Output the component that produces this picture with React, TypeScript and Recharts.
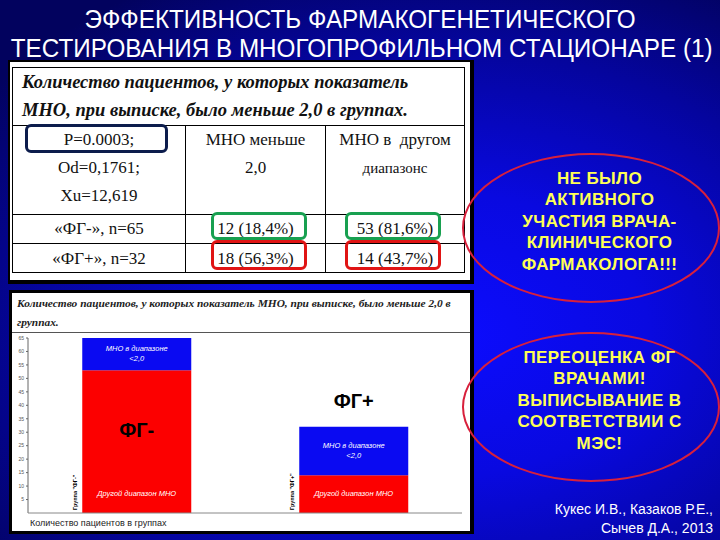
import React from 'react';
import { BarChart, Bar, XAxis, YAxis, LabelList } from 'recharts';

// chart data
const groups = ['ФГ-', 'ФГ+'];
const otherRange = [53, 14];
const below2 = [12, 18];
const yTicks = [5, 10, 15, 20, 25, 30, 35, 40, 45, 50, 55, 60, 65];
const groupAxisLabels = ['Группа "ФГ-"', 'Группа "ФГ+"'];

// table text
const tableHead = ['Количество пациентов, у которых показатель', 'МНО, при выписке, было меньше 2,0 в группах.'];
const statsLines = ['P=0.0003;', 'Od=0,1761;', 'Xu=12,619'];
const rowNames = ['«ФГ-», n=65', '«ФГ+», n=32'];
const belowCells = ['12 (18,4%)', '18 (56,3%)'];
const otherCells = ['53 (81,6%)', '14 (43,7%)'];

const oval1 = ['НЕ БЫЛО', 'АКТИВНОГО', 'УЧАСТИЯ ВРАЧА-', 'КЛИНИЧЕСКОГО', 'ФАРМАКОЛОГА!!!'];
const oval2 = ['ПЕРЕОЦЕНКА ФГ', 'ВРАЧАМИ!', 'ВЫПИСЫВАНИЕ В', 'СООТВЕТСТВИИ С', 'МЭС!'];

const data = groups.map((g, i) => ({ group: g, other: otherRange[i], below: below2[i] }));

const serif = '"Liberation Serif", "Times New Roman", serif';
const sans = '"Liberation Sans", Arial, sans-serif';

const RedLabel = (props: any) => {
  const { x, y, width, height, index } = props;
  const cx = x + width / 2;
  return (
    <g>
      <text x={cx} y={y + height - 17} textAnchor="middle" fill="#fff" fontSize={7.5} fontStyle="italic" fontFamily={sans}>
        Другой диапазон МНО
      </text>
      <text
        x={x - 5}
        y={y + height - 3}
        transform={`rotate(-90 ${x - 5} ${y + height - 3})`}
        fontSize={5.5}
        fontWeight="bold"
        fill="#000"
        fontFamily={sans}
      >
        {groupAxisLabels[index]}
      </text>
      {index === 0 && (
        <text x={cx} y={y + height * 0.42 + 7} textAnchor="middle" fontSize={20} fontWeight="bold" fill="#000" fontFamily={sans}>
          {groups[index]}
        </text>
      )}
    </g>
  );
};

const BlueLabel = (props: any) => {
  const { x, y, width, height, index } = props;
  const cx = x + width / 2;
  const cy = y + height / 2;
  return (
    <g>
      <text x={cx} y={cy - 3} textAnchor="middle" fill="#fff" fontSize={7.5} fontStyle="italic" fontFamily={sans}>
        МНО в диапазоне
      </text>
      <text x={cx} y={cy + 7} textAnchor="middle" fill="#fff" fontSize={7.5} fontStyle="italic" fontFamily={sans}>
        {'<2,0'}
      </text>
      {index === 1 && (
        <text x={cx} y={y - 19} textAnchor="middle" fontSize={20} fontWeight="bold" fill="#000" fontFamily={sans}>
          {groups[index]}
        </text>
      )}
    </g>
  );
};

const box = (left: number, top: number, w: number, h: number, color: string): React.CSSProperties => ({
  position: 'absolute',
  left,
  top,
  width: w,
  height: h,
  border: `3px solid ${color}`,
  borderRadius: 6,
  boxSizing: 'border-box',
});

const cell: React.CSSProperties = {
  borderRight: '1px solid #000',
  textAlign: 'center',
  fontFamily: serif,
  fontSize: 17,
  color: '#111',
  padding: 0,
};

const Oval = ({ top, lines }: { top: number; lines: string[] }) => (
  <div
    style={{
      position: 'absolute',
      left: 462,
      top,
      width: 258,
      height: 150,
      borderRadius: '50%',
      border: '2.5px solid #d8203c',
      boxSizing: 'border-box',
      display: 'flex',
      flexDirection: 'column',
      justifyContent: 'center',
      alignItems: 'center',
      paddingLeft: 17,
      paddingBottom: 13,
    }}
  >
    {lines.map((l) => (
      <div
        key={l}
        style={{ color: '#ffff55', fontWeight: 'bold', fontSize: 17, letterSpacing: 0.4, lineHeight: '21.5px', fontFamily: sans, whiteSpace: 'nowrap' }}
      >
        {l}
      </div>
    ))}
  </div>
);

export default function App() {
  return (
    <div
      style={{
        position: 'absolute',
        left: 0,
        top: 0,
        width: 720,
        height: 540,
        overflow: 'hidden',
        fontFamily: sans,
        background:
          'radial-gradient(ellipse 80% 75% at 62% 62%, #0c0cff 0%, #0909e0 35%, #05059e 70%, #02025e 100%)',
      }}
    >
      {/* title */}
      <div style={{ position: 'absolute', left: 0, top: 5, width: 720, textAlign: 'center', color: '#fff' }}>
        {['ЭФФЕКТИВНОСТЬ ФАРМАКОГЕНЕТИЧЕСКОГО', 'ТЕСТИРОВАНИЯ В МНОГОПРОФИЛЬНОМ СТАЦИОНАРЕ (1)'].map((t) => (
          <div key={t} style={{ fontSize: 25, lineHeight: '29px', transform: 'scaleX(0.97)', whiteSpace: 'nowrap' }}>
            {t}
          </div>
        ))}
      </div>

      {/* table */}
      <div style={{ position: 'absolute', left: 8, top: 60, width: 466, height: 224, background: '#000' }}>
        <div style={{ position: 'absolute', left: 2, top: 2, width: 460, height: 218, background: '#fff' }} />
        <div style={{ position: 'absolute', left: 4, top: 7, width: 453, height: 206, border: '1px solid #000', boxSizing: 'border-box' }}>
          <div style={{ height: 58, borderBottom: '1px solid #000', boxSizing: 'border-box', paddingLeft: 9 }}>
            {tableHead.map((t) => (
              <div
                key={t}
                style={{ fontFamily: serif, fontWeight: 'bold', fontStyle: 'italic', fontSize: 18.5, lineHeight: '28px', color: '#111', whiteSpace: 'nowrap' }}
              >
                {t}
              </div>
            ))}
          </div>
          <table style={{ borderCollapse: 'collapse', width: 451, tableLayout: 'fixed' }}>
            <tbody>
              <tr style={{ height: 88, borderBottom: '1px solid #000', verticalAlign: 'top' }}>
                <td style={{ ...cell, width: 172 }}>
                  {statsLines.map((t) => (
                    <div key={t} style={{ lineHeight: '28px' }}>{t}</div>
                  ))}
                </td>
                <td style={{ ...cell, width: 139 }}>
                  <div style={{ lineHeight: '28px' }}>МНО меньше</div>
                  <div style={{ lineHeight: '28px' }}>2,0</div>
                </td>
                <td style={{ ...cell, borderRight: 'none' }}>
                  <div style={{ lineHeight: '28px' }}>МНО в&nbsp; другом</div>
                  <div style={{ lineHeight: '28px', fontSize: 15 }}>диапазонс</div>
                </td>
              </tr>
              {rowNames.map((r, i) => (
                <tr key={r} style={{ height: 29.5, borderBottom: i === 0 ? '1px solid #000' : 'none' }}>
                  <td style={cell}>{r}</td>
                  <td style={cell}>{belowCells[i]}</td>
                  <td style={{ ...cell, borderRight: 'none' }}>{otherCells[i]}</td>
                </tr>
              ))}
            </tbody>
          </table>
        </div>
        <div style={box(17, 64, 143, 29, '#0c1c4c')} />
        <div style={box(203, 152, 96, 28, '#18a050')} />
        <div style={box(337, 152, 96, 28, '#18a050')} />
        <div style={box(203, 180, 96, 30, '#e01414')} />
        <div style={box(337, 180, 96, 30, '#e01414')} />
      </div>

      {/* bar chart panel */}
      <div style={{ position: 'absolute', left: 9, top: 290, width: 465, height: 244, background: '#000' }}>
        <div style={{ position: 'absolute', left: 3, top: 3, width: 458, height: 238, background: '#fff' }}>
          <div style={{ height: 40, borderBottom: '1.5px solid #555', boxSizing: 'border-box', paddingLeft: 5 }}>
            <div
              style={{ fontFamily: serif, fontWeight: 'bold', fontStyle: 'italic', fontSize: 11.4, lineHeight: '19px', color: '#222', paddingTop: 1, whiteSpace: 'nowrap' }}
            >
              Количество пациентов, у которых показатель МНО, при выписке, было меньше 2,0 в
            </div>
            <div style={{ fontFamily: serif, fontWeight: 'bold', fontStyle: 'italic', fontSize: 11.4, lineHeight: '19px', color: '#222' }}>
              группах.
            </div>
          </div>
          <BarChart
            width={458}
            height={195}
            data={data}
            margin={{ top: 5, right: 8, bottom: 0, left: 0 }}
            barCategoryGap="25%"
          >
            <YAxis
              type="number"
              domain={[0, 65]}
              ticks={yTicks}
              width={16}
              tickSize={2}
              tick={{ fontSize: 5, fill: '#555' }}
              stroke="#666"
              allowDataOverflow
            />
            <XAxis
              dataKey="group"
              tick={false}
              tickLine={false}
              height={15}
              stroke="#888"
              label={{ value: 'Количество пациентов в группах', position: 'insideBottomLeft', offset: 2, fontSize: 9, fill: '#222' }}
            />
            <Bar dataKey="other" stackId="a" fill="#fc0000" isAnimationActive={false}>
              <LabelList content={RedLabel} />
            </Bar>
            <Bar dataKey="below" stackId="a" fill="#0a0af2" isAnimationActive={false}>
              <LabelList content={BlueLabel} />
            </Bar>
          </BarChart>
        </div>
      </div>

      <Oval top={153} lines={oval1} />
      <Oval top={332} lines={oval2} />

      {/* footer */}
      <div style={{ position: 'absolute', right: 7, top: 500, textAlign: 'right', color: '#fff', fontSize: 14, lineHeight: '19px' }}>
        <div>Кукес И.В., Казаков Р.Е.,</div>
        <div>Сычев Д.А., 2013</div>
      </div>
    </div>
  );
}
